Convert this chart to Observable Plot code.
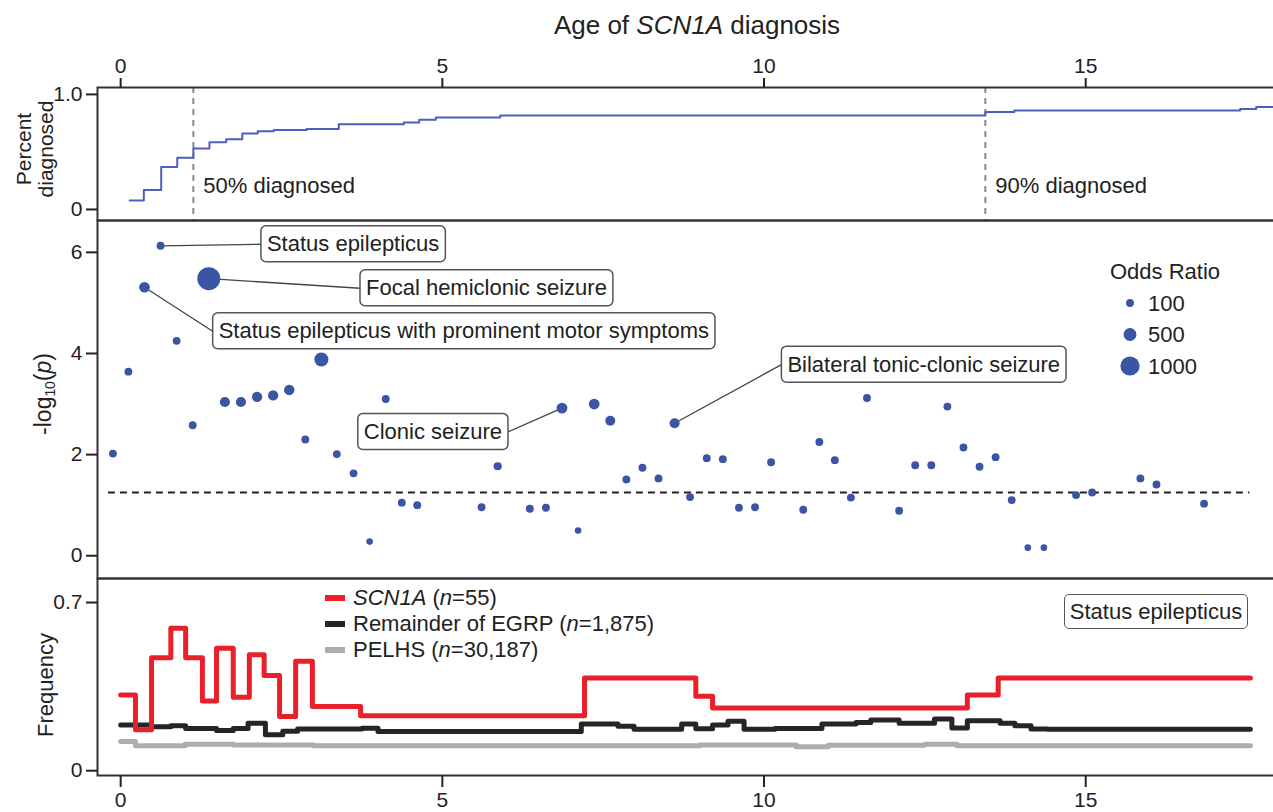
<!DOCTYPE html>
<html><head><meta charset="utf-8">
<script src="https://cdn.jsdelivr.net/npm/d3@7"></script>
<script src="https://cdn.jsdelivr.net/npm/@observablehq/plot@0.6"></script>
<style>
html,body{margin:0;padding:0;background:#fff;overflow:hidden;}
#chart{position:relative;width:1273px;height:812px;overflow:hidden;font-family:"Liberation Sans",Arial,Helvetica,sans-serif;color:#222;background:#fff;}
.panel{position:absolute;left:0;}
.lbl{position:absolute;white-space:nowrap;line-height:1;}
.rot{transform:translate(-50%,-50%) rotate(-90deg);text-align:center;}
.sw{position:absolute;width:20px;height:6px;}
</style></head><body><div id="chart"></div>
<script>
// ---------------- DATA ----------------
const ageTicks = [0, 5, 10, 15];

// Top panel: cumulative fraction diagnosed (step function)
const cumAge = [0.14, 0.36, 0.63, 0.88, 1.13, 1.38, 1.64, 1.89, 2.13, 2.38, 2.89, 3.39, 4.40, 4.64, 4.90, 5.90, 13.44, 13.89, 17.40, 17.65, 17.95];
const cumPct = [0.078, 0.17, 0.37, 0.45, 0.53, 0.585, 0.61, 0.66, 0.68, 0.69, 0.70, 0.74, 0.755, 0.78, 0.80, 0.817, 0.846, 0.86, 0.874, 0.89, 0.89];
const diagAges = [1.13, 13.44];
const diagLabels = ["50% diagnosed", "90% diagnosed"];

// Middle panel: phenotype associations
const phenoAge  = [-0.12, 0.12, 0.37, 0.62, 0.87, 1.12, 1.37, 1.62, 1.87, 2.12, 2.37, 2.62, 2.87, 3.12, 3.36, 3.62, 3.87, 4.12, 4.37, 4.61,
                   5.61, 5.86, 6.36, 6.61, 6.86, 7.11, 7.36, 7.61, 7.86, 8.11, 8.36, 8.61, 8.85, 9.11, 9.36, 9.61, 9.86, 10.11, 10.61, 10.86,
                   11.10, 11.35, 11.60, 12.10, 12.35, 12.60, 12.85, 13.10, 13.35, 13.60, 13.85, 14.10, 14.35, 14.85, 15.10, 15.85, 16.10, 16.84];
const phenoLogP = [2.02, 3.64, 5.31, 6.13, 4.25, 2.58, 5.48, 3.04, 3.04, 3.14, 3.17, 3.28, 2.30, 3.88, 2.01, 1.63, 0.28, 3.10, 1.05, 1.00,
                   0.96, 1.77, 0.93, 0.95, 2.92, 0.50, 3.00, 2.67, 1.51, 1.74, 1.53, 2.62, 1.16, 1.93, 1.91, 0.95, 0.96, 1.85, 0.91, 2.25,
                   1.89, 1.15, 3.12, 0.89, 1.79, 1.79, 2.95, 2.14, 1.76, 1.95, 1.10, 0.16, 0.16, 1.20, 1.25, 1.53, 1.41, 1.03];
const phenoOR   = [100, 100, 320, 100, 100, 100, 1300, 280, 280, 290, 290, 310, 100, 590, 100, 100, 0, 100, 100, 100,
                   100, 130, 100, 100, 340, 0, 330, 270, 100, 100, 100, 270, 100, 100, 100, 100, 100, 100, 100, 100,
                   100, 100, 100, 100, 100, 100, 100, 100, 100, 100, 100, 0, 0, 100, 100, 100, 100, 100];
const threshold = [{y: 1.25, x1: -0.19, x2: 17.55}];

// Annotations: point (px,py) and label anchor (lx,ly)
const annLabel  = ["Status epilepticus", "Focal hemiclonic seizure", "Status epilepticus with prominent motor symptoms", "Clonic seizure", "Bilateral tonic-clonic seizure"];
const annPX     = [0.62, 1.37, 0.37, 6.86, 8.61];
const annPY     = [6.13, 5.48, 5.31, 2.92, 2.62];
const annLX     = [2.18, 3.72, 1.43, 6.02, 10.27];
const annLY     = [6.16, 5.29, 4.44, 2.45, 3.78];
const annSide   = ["start", "start", "start", "end", "start"];

const orLegend = [100, 500, 1000];

// Bottom panel: frequency of status epilepticus (step functions)
const scnAge  = [0, 0.23, 0.48, 0.78, 1.01, 1.27, 1.49, 1.75, 2.0, 2.23, 2.47, 2.72, 2.98, 3.73, 7.21, 8.94, 9.2, 13.16, 13.64, 17.56];
const scnFreq = [0.315, 0.170, 0.47, 0.593, 0.47, 0.29, 0.51, 0.306, 0.483, 0.396, 0.226, 0.456, 0.267, 0.229, 0.386, 0.31, 0.261, 0.315, 0.386, 0.386];
const egrpAge  = [0, 0.48, 0.78, 1.01, 1.49, 1.75, 1.98, 2.25, 2.52, 2.75, 3.75, 4.0, 7.16, 7.73, 7.98, 8.72, 8.94, 9.2, 9.44, 9.69, 10.17, 10.9, 11.43, 11.66, 12.1, 12.65, 12.92, 13.16, 13.67, 13.9, 14.15, 14.4, 17.56];
const egrpFreq = [0.19, 0.183, 0.1875, 0.176, 0.167, 0.176, 0.197, 0.15, 0.164, 0.174, 0.177, 0.163, 0.194, 0.185, 0.172, 0.194, 0.175, 0.19, 0.206, 0.172, 0.176, 0.194, 0.201, 0.211, 0.197, 0.215, 0.178, 0.208, 0.197, 0.1875, 0.174, 0.172, 0.172];
const pelAge  = [0, 0.23, 1.0, 1.75, 3.0, 9.0, 10.5, 11.0, 12.5, 13.0, 17.56];
const pelFreq = [0.122, 0.104, 0.110, 0.107, 0.104, 0.107, 0.100, 0.106, 0.110, 0.104, 0.104];

const seriesNames = ["SCN1A", "Remainder of EGRP", "PELHS"];
const seriesN = ["55", "1,875", "30,187"];
const seriesColors = ["#e8202a", "#252525", "#adadad"];

// ---------------- BUILD ----------------
const zip = (xs, ys, kx, ky) => xs.map((v, i) => ({[kx]: v, [ky]: ys[i]}));
const cumulative = zip(cumAge, cumPct, "age", "pct");
const diagMarkers = diagAges.map((a, i) => ({age: a, label: diagLabels[i]}));
const phenotypes = phenoAge.map((a, i) => ({age: a, logp: phenoLogP[i], or: phenoOR[i]}));
const annotations = annLabel.map((l, i) => ({label: l, px: annPX[i], py: annPY[i], lx: annLX[i], ly: annLY[i], side: annSide[i]}));
const scn = zip(scnAge, scnFreq, "age", "freq");
const egrp = zip(egrpAge, egrpFreq, "age", "freq");
const pel = zip(pelAge, pelFreq, "age", "freq");

const X_DOMAIN = [-0.36, 17.95];
const FONT = '"Liberation Sans", Arial, Helvetica, sans-serif';
const style = {fontFamily: FONT, fontSize: "21px", color: "#222", background: "transparent", overflow: "visible", maxWidth: "none"};
const W = 1275;
const chart = document.getElementById("chart");
function addPanel(svg, top) {
  const d = document.createElement("div");
  d.className = "panel"; d.style.top = top + "px";
  d.appendChild(svg); chart.appendChild(d);
}

// Panel 1
const p1 = Plot.plot({
  width: W, height: 220, marginTop: 87, marginBottom: 0, marginLeft: 97, marginRight: 0,
  style,
  x: {domain: X_DOMAIN},
  y: {domain: [-0.096, 1.06]},
  marks: [
    Plot.ruleX(diagMarkers, {x: "age", stroke: "#8a8a8a", strokeWidth: 2, strokeDasharray: "6,5"}),
    Plot.text(diagMarkers, {x: "age", frameAnchor: "bottom", text: "label", textAnchor: "start", lineAnchor: "middle", dx: 10, dy: -35, fontSize: 22, fill: "#222"}),
    Plot.line(cumulative, {x: "age", y: "pct", curve: "step-after", stroke: "#4a60c0", strokeWidth: 2}),
    Plot.frame({stroke: "#333", strokeWidth: 2}),
    Plot.axisX({anchor: "top", ticks: ageTicks, tickSize: 10, tickPadding: 5, label: null, strokeWidth: 2}),
    Plot.axisY({ticks: [0, 1], tickFormat: d => d === 1 ? "1.0" : "0", tickSize: 11, tickPadding: 4, label: null, strokeWidth: 2})
  ]
});
addPanel(p1, 0);

// Panel 2
const p2 = Plot.plot({
  width: W, height: 358, marginTop: 0, marginBottom: 0, marginLeft: 97, marginRight: 0,
  style,
  x: {domain: X_DOMAIN, axis: null},
  y: {domain: [-0.45, 6.63]},
  r: {type: "linear", domain: [0, 1000], range: [3.3, 9.6]},
  marks: [
    Plot.ruleY(threshold, {y: "y", x1: "x1", x2: "x2", stroke: "#222", strokeWidth: 2, strokeDasharray: "7,5"}),
    Plot.link(annotations, {x1: "px", y1: "py", x2: "lx", y2: "ly", stroke: "#444", strokeWidth: 1.3}),
    Plot.dot(phenotypes, {x: "age", y: "logp", r: "or", fill: "#3a54a6"}),
    Plot.text(annotations.filter(d => d.side === "start"), {x: "lx", y: "ly", text: "label", textAnchor: "start", lineAnchor: "middle", dx: 6, fontSize: 22, fill: "#222"}),
    Plot.text(annotations.filter(d => d.side === "end"), {x: "lx", y: "ly", text: "label", textAnchor: "end", lineAnchor: "middle", dx: -6, fontSize: 22, fill: "#222"}),
    Plot.frame({stroke: "#333", strokeWidth: 2}),
    Plot.axisY({ticks: [0, 2, 4, 6], tickSize: 11, tickPadding: 4, label: null, strokeWidth: 2})
  ]
});
addPanel(p2, 220);
Array.from(p2.querySelectorAll("text")).filter(t => annLabel.includes(t.textContent)).forEach(t => {
  const b = t.getBBox();
  const r = document.createElementNS("http://www.w3.org/2000/svg", "rect");
  const cy = b.y + b.height / 2;
  r.setAttribute("x", b.x - 6); r.setAttribute("width", b.width + 12);
  r.setAttribute("y", cy - 18); r.setAttribute("height", 36);
  r.setAttribute("rx", 5); r.setAttribute("fill", "white");
  r.setAttribute("stroke", "#555"); r.setAttribute("stroke-width", 1.5);
  if (t.getAttribute("transform")) r.setAttribute("transform", t.getAttribute("transform"));
  t.parentNode.insertBefore(r, t);
});

// Odds ratio legend using the plot's r scale
const rScale = p2.scale("r");
const leg = d3.create("svg").attr("width", 200).attr("height", 140)
  .style("position", "absolute").style("left", "1080px").style("top", "250px").style("overflow", "visible")
  .style("font-family", FONT);
leg.append("text").attr("x", 85).attr("y", 29).attr("text-anchor", "middle").attr("font-size", 22).attr("fill", "#222").text("Odds Ratio");
orLegend.forEach((v, i) => {
  const cy = 53 + i * 31.5;
  leg.append("circle").attr("cx", 50).attr("cy", cy).attr("r", rScale.apply(v)).attr("fill", "#3a54a6");
  leg.append("text").attr("x", 68).attr("y", cy).attr("dy", "0.35em").attr("font-size", 22).attr("fill", "#222").text(v);
});
chart.appendChild(leg.node());

// Panel 3
const p3 = Plot.plot({
  width: W, height: 234, marginTop: 0, marginBottom: 37, marginLeft: 97, marginRight: 0,
  style,
  x: {domain: X_DOMAIN},
  y: {domain: [-0.02, 0.80]},
  marks: [
    Plot.line(pel, {x: "age", y: "freq", curve: "step-after", stroke: seriesColors[2], strokeWidth: 5}),
    Plot.line(egrp, {x: "age", y: "freq", curve: "step-after", stroke: seriesColors[1], strokeWidth: 5}),
    Plot.line(scn, {x: "age", y: "freq", curve: "step-after", stroke: seriesColors[0], strokeWidth: 5}),
    Plot.frame({stroke: "#333", strokeWidth: 2}),
    Plot.axisX({anchor: "bottom", ticks: ageTicks, tickSize: 12, tickPadding: 5, label: null, strokeWidth: 2}),
    Plot.axisY({ticks: [0, 0.7], tickFormat: d => d === 0 ? "0" : "0.7", tickSize: 11, tickPadding: 4, label: null, strokeWidth: 2})
  ]
});
addPanel(p3, 578);

// Series legend (bottom panel)
seriesNames.forEach((name, i) => {
  const cy = 598 + i * 26;
  const sw = document.createElement("div");
  sw.className = "sw"; sw.style.left = "325px"; sw.style.top = (cy - 3) + "px"; sw.style.background = seriesColors[i];
  chart.appendChild(sw);
  const t = document.createElement("div");
  t.className = "lbl"; t.style.left = "353px"; t.style.top = (cy - 11) + "px"; t.style.fontSize = "22px";
  t.innerHTML = (i === 0 ? "<i>" + name + "</i>" : name) + " (<i>n</i>=" + seriesN[i] + ")";
  chart.appendChild(t);
});

// Box label in bottom panel
const sebox = document.createElement("div");
sebox.className = "lbl";
Object.assign(sebox.style, {left: "1064px", top: "594px", width: "182px", height: "33px", border: "1.5px solid #555", borderRadius: "5px", background: "#fff", fontSize: "22px", lineHeight: "33px", textAlign: "center"});
sebox.textContent = "Status epilepticus";
chart.appendChild(sebox);

// Axis titles
function addText(html, left, top, size, cls) {
  const d = document.createElement("div");
  d.className = "lbl " + (cls || "");
  d.style.left = left + "px"; d.style.top = top + "px"; d.style.fontSize = size + "px";
  d.innerHTML = html; chart.appendChild(d); return d;
}
const title = addText("Age of <i>SCN1A</i> diagnosis", 697, 12, 26);
title.style.transform = "translateX(-50%)";
const pd = addText("Percent<br>diagnosed", 35, 149, 21, "rot"); pd.style.lineHeight = "22px";
addText("-log<sub style=\"font-size:0.6em;vertical-align:-0.25em\">10</sub>(<i>p</i>)", 45, 394, 23, "rot");
addText("Frequency", 46, 685, 22, "rot");
</script></body></html>
